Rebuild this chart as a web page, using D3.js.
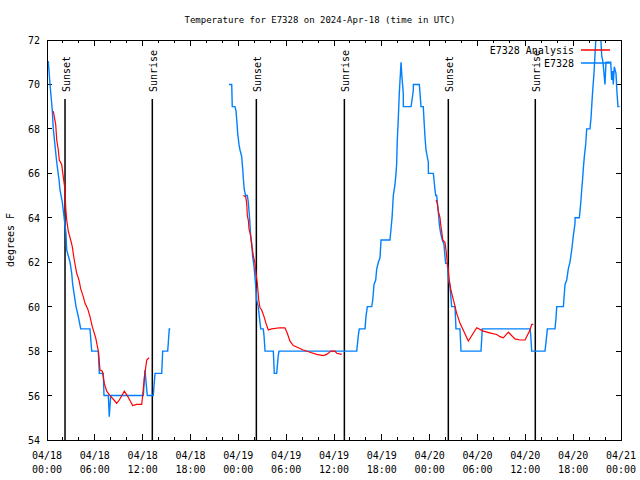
<!DOCTYPE html>
<html><head><meta charset="utf-8">
<script src="https://cdn.jsdelivr.net/npm/d3@7"></script>
<style>
html,body{margin:0;padding:0;background:#fff;}
text{font-family:"DejaVu Sans Mono",monospace;font-size:10px;fill:#000;}
</style></head>
<body>
<svg id="chart" width="640" height="480"></svg>
<script>
// ---------- data ----------
const chartTitle = "Temperature for E7328 on 2024-Apr-18 (time in UTC)";
const yAxisLabel = "degrees F";
const startTime = "2024-04-18T00:00:00Z";
const endTime = "2024-04-21T00:00:00Z";
const yTickValues = [54, 56, 58, 60, 62, 64, 66, 68, 70, 72];
const seriesNames = ["E7328 Analysis", "E7328"];

// observations (hours after start, °F); null = gap
const obsHours = [0.16,0.38,0.66,0.79,1.22,1.51,1.63,1.92,2.13,2.38,2.47,2.89,3.10,3.22,3.64,3.93,4.23,5.39,5.61,6.44,6.56,7.06,7.15,7.69,7.81,7.99,12.08,12.29,12.58,13.33,13.55,14.39,14.51,15.14,15.34,15.47,
  null,
  22.83,23.17,23.24,23.58,23.71,23.80,23.92,24.08,24.21,24.42,24.55,24.62,24.75,24.92,25.13,25.25,25.34,25.43,25.55,25.68,25.80,25.97,26.09,26.22,26.30,26.50,26.63,26.81,27.13,27.22,27.35,28.39,28.51,28.81,29.01,29.10,38.85,39.05,39.17,39.89,40.01,40.18,40.73,40.86,41.02,41.23,41.36,41.56,41.77,41.90,43.02,43.28,43.44,43.65,43.78,43.86,43.94,44.07,44.19,44.41,44.49,44.69,44.70,45.66,45.75,45.95,45.96,46.70,46.79,46.91,47.20,47.29,47.42,47.54,47.83,47.84,48.46,48.55,48.67,48.76,48.88,48.96,49.08,49.21,49.38,49.59,49.80,49.92,50.01,50.21,50.34,50.55,50.68,50.76,51.18,51.30,51.80,51.93,54.44,54.60,60.59,60.68,60.80,62.47,62.68,62.76,63.72,63.85,63.94,64.77,64.98,65.19,65.39,65.60,65.82,66.02,66.23,66.24,66.77,66.86,66.98,67.07,67.20,67.27,67.40,67.57,67.70,68.11,68.24,68.40,68.61,68.87,69.45,69.58,69.74,69.99,70.12,70.71,70.83,70.96,71.03,71.16,71.37,71.50,71.62,71.83];
const obsTemps = [71.05,70.0,68.85,68.0,66.5,65.7,65.25,64.7,64.05,63.3,62.55,62.0,61.5,61.0,60.0,59.55,59.0,59.0,58.0,58.0,57.0,57.0,56.0,56.0,55.05,56.0,56.0,57.15,56.0,56.0,57.0,57.0,58.0,58.0,59.0,59.0,
  null,
  70.0,70.0,69.0,69.0,68.8,68.4,67.8,67.3,67.05,66.75,66.2,65.8,65.25,65.0,65.0,64.7,64.3,63.9,63.15,62.85,62.25,61.8,61.3,60.75,60.3,60.0,59.55,59.0,59.0,58.7,58.0,58.0,57.0,57.0,57.8,58.0,58.0,58.7,59.0,59.0,59.55,60.0,60.0,60.3,61.0,61.2,61.7,62.0,62.2,63.0,63.0,64.0,65.0,65.5,66.0,66.45,67.5,68.5,69.6,71.0,70.5,69.6,69.0,69.0,69.2,69.75,70.0,70.0,69.6,69.0,69.0,68.4,67.6,67.05,66.5,66.0,66.0,65.7,65.25,65.0,65.0,64.7,64.3,63.7,63.3,63.0,62.8,62.25,61.95,61.95,61.3,60.9,60.35,60.0,60.0,59.0,59.0,58.0,58.0,59.0,59.0,58.7,58.0,58.0,58.7,59.0,59.0,59.5,60.0,60.0,61.0,61.2,61.7,62.0,62.55,63.2,63.75,64.0,64.0,64.3,64.8,65.25,65.8,66.2,66.75,67.3,68.0,68.0,68.5,69.45,70.5,72.2,72.2,71.3,71.0,70.0,71.0,71.0,70.2,70.6,70.0,70.8,70.5,69.6,69.0,69.0];

// analysis (hours after start, °F); null = gap
const anaHours = [0.79,1.09,1.22,1.42,1.54,1.84,2.04,2.26,2.35,2.47,2.67,2.97,3.17,3.42,3.73,4.01,4.23,4.55,4.77,5.11,5.39,5.68,6.11,6.44,6.65,6.94,7.19,7.49,7.90,8.40,8.74,9.07,9.70,10.07,10.75,11.25,11.88,12.00,12.21,12.51,12.79,
  null,
  24.62,24.92,25.05,25.13,25.25,25.34,25.55,25.68,25.88,26.09,26.22,26.38,26.56,26.72,26.93,27.22,27.47,27.76,28.19,29.23,29.85,30.14,30.48,30.90,31.52,32.15,32.99,33.83,34.66,35.08,35.62,36.13,36.34,36.97,
  null,
  48.80,48.96,49.08,49.30,49.38,49.51,49.64,49.92,50.05,50.21,50.34,50.46,50.64,50.84,51.05,51.39,51.81,52.02,52.85,53.90,54.73,55.78,56.41,56.82,57.24,57.87,58.70,59.33,59.96,60.59,60.80,61.00];
const anaTemps = [68.8,68.2,67.5,67.05,66.6,66.4,65.85,65.25,64.45,63.9,63.4,63.0,62.7,62.1,61.5,61.2,60.8,60.45,60.15,59.9,59.55,59.1,58.6,58.0,57.15,57.1,56.55,56.2,56.0,55.8,55.65,55.8,56.2,56.0,55.55,55.6,55.6,56.0,56.8,57.6,57.7,
  null,
  65.0,64.95,64.65,64.1,63.9,63.5,63.2,62.75,62.3,61.95,61.5,61.05,60.3,59.95,59.85,59.55,59.25,58.95,59.0,59.05,59.05,58.8,58.45,58.25,58.15,58.05,57.95,57.85,57.8,57.85,58.0,58.0,57.9,57.85,
  null,
  64.8,64.65,64.3,64.0,63.7,63.4,63.0,62.9,62.55,62.0,61.65,61.2,60.8,60.5,60.2,59.7,59.25,59.1,58.45,59.05,58.9,58.8,58.75,58.65,58.6,58.85,58.55,58.5,58.5,58.95,59.2,59.2];

const sunLabels = ["Sunset", "Sunrise", "Sunset", "Sunrise", "Sunset", "Sunrise"];
const sunHours = [2.26, 13.21, 26.26, 37.3, 50.34, 61.25];

// ---------- drawing ----------
const svg = d3.select("#chart");
const L = 47, R = 621, T = 40, B = 440;
const t0 = new Date(startTime), t1 = new Date(endTime);
const hr = h => new Date(t0.getTime() + h * 3600e3);
const x = d3.scaleUtc().domain([t0, t1]).range([L, R]);
const y = d3.scaleLinear().domain([54, 72]).range([B, T]);

svg.append("defs").append("clipPath").attr("id", "clip")
  .append("rect").attr("x", L).attr("y", T).attr("width", R - L).attr("height", B - T);

// title
svg.append("text").attr("x", 320).attr("y", 23).attr("text-anchor", "middle")
  .style("font-size", "9px").text(chartTitle);
// y label
svg.append("text").attr("transform", "translate(14,240) rotate(-90)").attr("text-anchor", "middle").text(yAxisLabel);

// axes with inward ticks
const major = d3.utcHour.every(6).range(t0, d3.utcHour.offset(t1, 1));
const minor = d3.utcHour.every(2).range(t0, d3.utcHour.offset(t1, 1));
const g = svg.append("g").attr("stroke", "#000").attr("stroke-width", 1).attr("shape-rendering", "crispEdges");
minor.forEach(d => {
  const len = major.some(m => +m === +d) ? 6 : 3;
  g.append("line").attr("x1", x(d)).attr("x2", x(d)).attr("y1", B).attr("y2", B - len);
  g.append("line").attr("x1", x(d)).attr("x2", x(d)).attr("y1", T).attr("y2", T + len);
});
yTickValues.forEach(v => {
  g.append("line").attr("x1", L).attr("x2", L + 5).attr("y1", y(v)).attr("y2", y(v));
  g.append("line").attr("x1", R).attr("x2", R - 5).attr("y1", y(v)).attr("y2", y(v));
});
const fmtD = d3.utcFormat("%m/%d"), fmtT = d3.utcFormat("%H:%M");
major.forEach(d => {
  const t = svg.append("text").attr("x", x(d)).attr("text-anchor", "middle");
  t.append("tspan").attr("x", x(d)).attr("y", 459).text(fmtD(d));
  t.append("tspan").attr("x", x(d)).attr("y", 473).text(fmtT(d));
});
yTickValues.forEach(v => {
  svg.append("text").attr("x", 40).attr("y", y(v) + 4).attr("text-anchor", "end").text(v);
});

// sunrise / sunset
sunHours.forEach((h, i) => {
  const xx = x(hr(h));
  svg.append("line").attr("x1", xx).attr("x2", xx).attr("y1", 99).attr("y2", B)
    .attr("stroke", "#000").attr("stroke-width", 1.5);
  svg.append("text").attr("transform", `translate(${xx + 5},92) rotate(-90)`).text(sunLabels[i]);
});

// series
const mk = (hs, vs) => hs.map((h, i) => ({ h, v: vs[i] }));
const line = d3.line().defined(d => d.h !== null && d.v !== null)
  .x(d => x(hr(d.h))).y(d => y(d.v));
const plot = svg.append("g").attr("clip-path", "url(#clip)");
plot.append("path").datum(mk(obsHours, obsTemps)).attr("d", line)
  .attr("fill", "none").attr("stroke", "#0080ff").attr("stroke-width", 1.4);
plot.append("path").datum(mk(anaHours, anaTemps)).attr("d", line)
  .attr("fill", "none").attr("stroke", "#ff0000").attr("stroke-width", 1.2);

// frame
svg.append("rect").attr("x", L).attr("y", T).attr("width", R - L).attr("height", B - T)
  .attr("fill", "none").attr("stroke", "#000").attr("shape-rendering", "crispEdges");

// legend
const legColors = ["#ff0000", "#0080ff"];
seriesNames.forEach((n, i) => {
  const yy = 50 + i * 13;
  svg.append("text").attr("x", 574).attr("y", yy + 4).attr("text-anchor", "end").text(n);
  svg.append("line").attr("x1", 581).attr("x2", 610).attr("y1", yy).attr("y2", yy)
    .attr("stroke", legColors[i]).attr("stroke-width", 1.5);
});
</script>
</body></html>
